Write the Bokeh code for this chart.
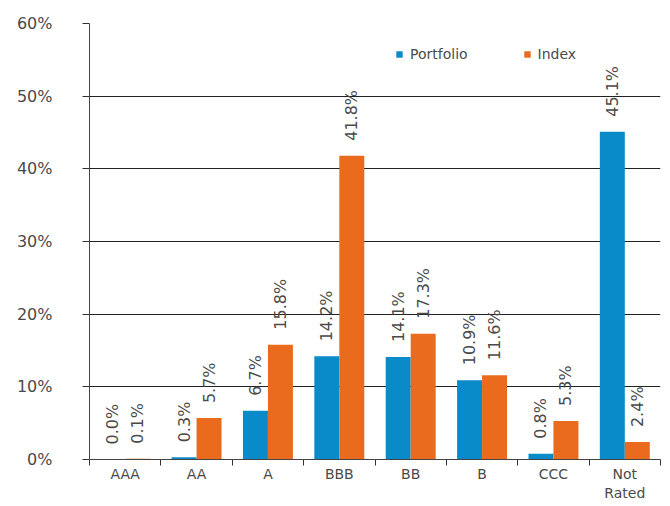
import numpy as np
from bokeh.plotting import figure
from bokeh.models import (ColumnDataSource, FixedTicker, Range1d, Legend, LegendItem,
                          NumeralTickFormatter)
from bokeh.core.properties import value
from bokeh.embed import file_html
from bokeh.resources import INLINE

categories = ["AAA", "AA", "A", "BBB", "BB", "B", "CCC", "Not Rated"]
portfolio = [0.0, 0.3, 6.7, 14.2, 14.1, 10.9, 0.8, 45.1]
index_vals = [0.1, 5.7, 15.8, 41.8, 17.3, 11.6, 5.3, 2.4]
y_ticks = [0, 10, 20, 30, 40, 50, 60]

BLUE = "#0A8BC9"
ORANGE = "#EA6A1E"
TXT = "#4a4a4a"
FONT = "DejaVu Sans"

n = len(categories)
centers = np.arange(n) + 0.5
bw = 0.35

src_p = ColumnDataSource(dict(x=centers - bw / 2, top=portfolio,
                              lbl=[f"{v:.1f}%" for v in portfolio]))
src_i = ColumnDataSource(dict(x=centers + bw / 2, top=index_vals,
                              lbl=[f"{v:.1f}%" for v in index_vals]))

p = figure(width=662, height=506, output_backend="svg", toolbar_location=None,
           x_range=Range1d(0, n), y_range=Range1d(0, 60),
           min_border_left=89, min_border_right=2, min_border_top=23, min_border_bottom=47)
p.outline_line_color = None
p.background_fill_color = None
p.border_fill_color = "white"

rp = p.vbar(x="x", top="top", width=bw, source=src_p, fill_color=BLUE, line_color=None)
ri = p.vbar(x="x", top="top", width=bw, source=src_i, fill_color=ORANGE, line_color=None)

for src in (src_p, src_i):
    p.text(x="x", y="top", text="lbl", source=src, angle=np.pi / 2, y_offset=-15,
           text_align="left", text_baseline="middle", text_font=value(FONT),
           text_font_size="16px", text_color=TXT)

# y axis
p.yaxis.ticker = FixedTicker(ticks=y_ticks)
p.yaxis.formatter = NumeralTickFormatter(format="0")
p.yaxis.major_label_overrides = {t: f"{t}%" for t in y_ticks}
p.yaxis.major_tick_out = 7
p.yaxis.major_tick_in = 0
p.yaxis.minor_tick_line_color = None
p.yaxis.major_tick_line_color = "#333333"
p.yaxis.axis_line_color = "#444444"
p.yaxis.major_label_standoff = 30
p.yaxis.major_label_text_font = FONT
p.yaxis.major_label_text_font_size = "16px"
p.yaxis.major_label_text_color = TXT

p.ygrid.ticker = FixedTicker(ticks=y_ticks)
p.ygrid.grid_line_color = "#222222"
p.ygrid.grid_line_width = 1
p.xgrid.grid_line_color = None

# x axis
p.xaxis.ticker = FixedTicker(ticks=list(centers), minor_ticks=list(range(n + 1)))
p.xaxis.major_label_overrides = {float(c): lab.replace(" ", "\n") for c, lab in zip(centers, categories)}
p.xaxis.major_tick_line_color = None
p.xaxis.major_tick_out = 0
p.xaxis.major_tick_in = 0
p.xaxis.minor_tick_out = 6
p.xaxis.minor_tick_in = 0
p.xaxis.minor_tick_line_color = "#333333"
p.xaxis.axis_line_color = "#444444"
p.xaxis.major_label_standoff = 0
p.xaxis.major_label_text_font = FONT
p.xaxis.major_label_text_font_size = "14px"
p.xaxis.major_label_text_color = TXT

legend = Legend(items=[LegendItem(label="Portfolio", renderers=[rp]),
                       LegendItem(label="Index", renderers=[ri])],
                location=(306, 397), orientation="horizontal",
                glyph_width=8, glyph_height=8, label_height=16, label_standoff=7,
                spacing=55, padding=0, margin=0,
                border_line_color=None, background_fill_color=None,
                label_text_font=FONT, label_text_font_size="14px", label_text_color=TXT)
p.add_layout(legend)

open("out.html", "w").write(file_html(p, INLINE))
